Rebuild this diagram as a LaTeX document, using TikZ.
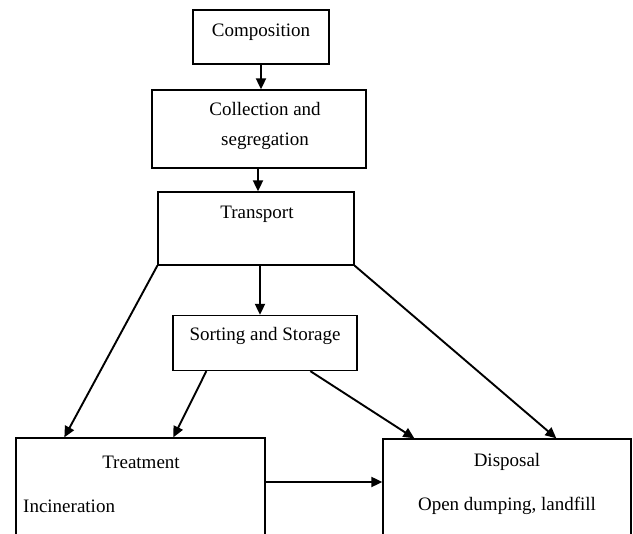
\documentclass[tikz,border=0pt]{standalone}
\usepackage{fontspec}
\setmainfont{Liberation Serif}
\usetikzlibrary{arrows.meta,calc}
\begin{document}
\begin{tikzpicture}[x=1pt,y=-1pt,
  box/.style={draw,line width=1.3pt,rectangle,inner sep=0pt},
  lbl/.style={font=\fontsize{19}{30}\selectfont,inner sep=0pt,align=center},
  arr/.style={line width=1.9pt,-{Triangle[length=11pt,width=10pt]}}]
\useasboundingbox (0,0) rectangle (633,534);
\clip (0,0) rectangle (633,534);
\fill[white] (0,0) rectangle (633,534);
% boxes
\node[box,minimum width=136,minimum height=54] (comp) at (261,37) {};
\node[box,minimum width=214,minimum height=78] (coll) at (259,129) {};
\node[box,minimum width=196,minimum height=73] (trans) at (256,228.5) {};
\node[box,minimum width=184,minimum height=55] (sort) at (265,343) {};
\node[box,minimum width=249,minimum height=132] (treat) at (140.5,504) {};
\node[box,minimum width=248,minimum height=131] (disp) at (507,504.5) {};
% labels
\node[lbl] (tcomp) at (261,32) {Composition};
\node[lbl] (tcoll) at (265,126) {Collection and\\segregation};
\node[lbl] (ttrans) at (257,214) {Transport};
\node[lbl] (tsort) at (265,336) {Sorting and Storage};
\node[lbl] (ttreat) at (141,462) {Treatment};
\node[lbl,anchor=west] (tinc) at (23,506) {Incineration};
\node[lbl] (tdisp) at (507,462) {Disposal};
\node[lbl] (topen) at (507,506) {Open dumping, landfill};
% connectors
\draw[arr] (comp.south) -- (comp.south |- coll.north);
\draw[arr] ([xshift=-1]coll.south) -- ([xshift=-1]coll.south |- trans.north);
\draw[arr] ([xshift=4]trans.south) -- ([xshift=4]trans.south |- sort.north);
\draw[arr] (trans.south west) -- ([xshift=49]treat.north west);
\draw[arr] (trans.south east) -- ([xshift=174]disp.north west);
\draw[arr] ([xshift=34]sort.south west) -- ([xshift=158]treat.north west);
\draw[arr] ([xshift=138]sort.south west) -- ([xshift=32]disp.north west);
\draw[arr] (treat.east |- 0,482) -- (disp.west |- 0,482);
\end{tikzpicture}
\end{document}
